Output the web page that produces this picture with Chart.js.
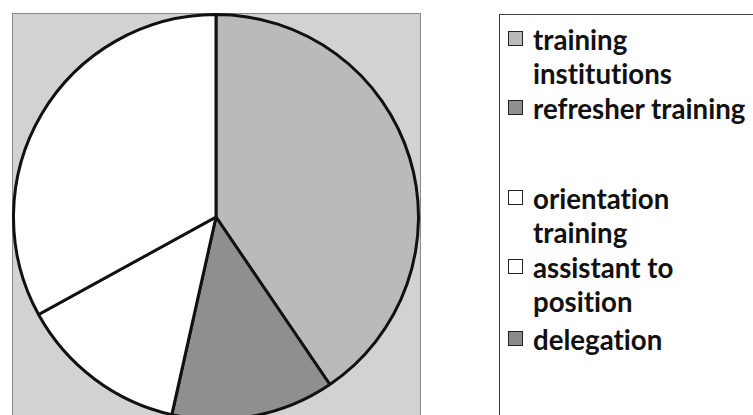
<!DOCTYPE html>
<html>
<head>
<meta charset="utf-8">
<script src="https://cdn.jsdelivr.net/npm/chart.js@4/dist/chart.umd.min.js"></script>
<style>
    html, body { margin: 0; padding: 0; background: #fff; overflow: hidden; }
    body { width: 753px; height: 415px; position: relative; }
    #pie-box {
        position: absolute; left: 12px; top: 13px; width: 407px; height: 420px;
        background: #d2d2d2; border: 1px solid #8a8a8a; border-bottom: none;
    }
    #pie-wrap { position: absolute; left: 12px; top: 13px; width: 408px; height: 408px; }
    #legend {
        position: absolute; left: 499px; top: 14px; width: 300px; height: 420px;
        border-left: 1.5px solid #333; border-top: 1.5px solid #444;
        font-family: Lato, "Open Sans", sans-serif; font-weight: bold; color: #111;
        font-variant-ligatures: none; font-feature-settings: "liga" 0, "clig" 0;
        padding-top: 8px; box-sizing: border-box;
    }
    .item { display: flex; align-items: flex-start; margin-bottom: 1px; }
    .icon {
        width: 13px; height: 13px; border: 1.5px solid #222; margin: 8px 10px 0 8px; flex: none;
    }
    .text { width: 218px; }
</style>
</head>
<body>
<div id="pie-box"></div>
<div id="pie-wrap"><canvas id="pie-chart" width="408" height="408"></canvas></div>
<div id="legend"></div>
<script>
    const categories = ['training institutions', 'refresher training', 'orientation training', 'assistant to position', 'delegation'];
    const shares = [40.5, 13, 13.5, 33, 0];
    const sliceColors = ['#bababa', '#8f8f8f', '#ffffff', '#ffffff', '#8a8a8a'];

    function fitFontSize(text, width) {
        var ctx = document.createElement('canvas').getContext('2d');
        ctx.font = 'bold 20px Lato';
        return 20 * width / ctx.measureText(text).width;
    }

    function initChart() {
        const config = {
            type: 'pie',
            data: {
                labels: categories,
                datasets: [{
                    data: shares,
                    backgroundColor: sliceColors,
                    borderColor: '#111',
                    borderWidth: 3,
                    hoverOffset: 0
                }]
            },
            options: {
                responsive: false,
                animation: false,
                events: [],
                plugins: {
                    legend: { display: false },
                    tooltip: { enabled: false }
                }
            }
        };
        return new Chart(document.getElementById('pie-chart'), config);
    }

    function buildLegend(chart) {
        var legend = document.getElementById('legend');
        var size = fitFontSize('refresher training', 213);
        legend.style.fontSize = size + 'px';
        legend.style.lineHeight = '34px';

        chart.data.labels.forEach(function (label, i) {
            var item = document.createElement('div');
            item.className = 'item';
            var icon = document.createElement('span');
            icon.className = 'icon';
            icon.style.background = chart.data.datasets[0].backgroundColor[i];
            var text = document.createElement('span');
            text.className = 'text';
            text.textContent = label;
            item.appendChild(icon);
            item.appendChild(text);
            // the refresher entry leaves an empty gap under it in the original
            if (i === 1) item.style.marginBottom = '56px';
            if (i === 3) item.style.marginBottom = '4px';
            legend.appendChild(item);
        });
    }

    var chart = initChart();
    buildLegend(chart);
</script>
</body>
</html>
